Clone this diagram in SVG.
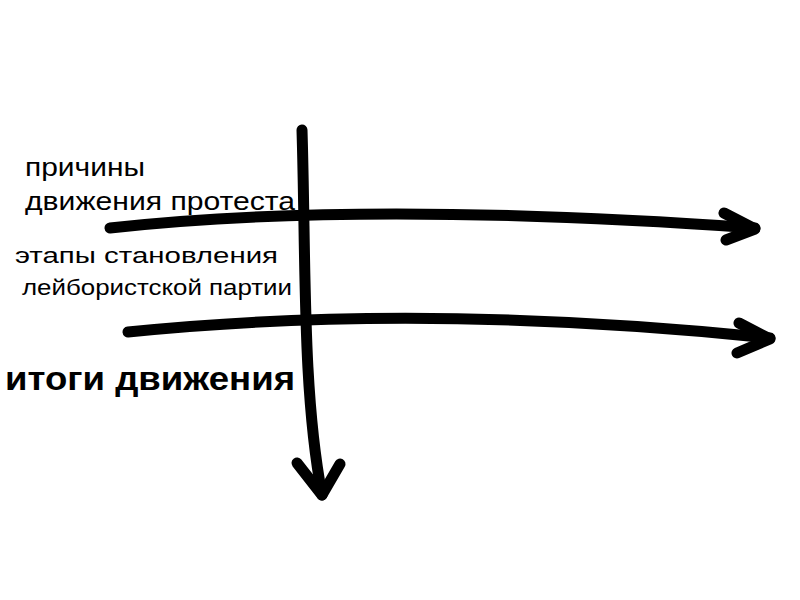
<svg xmlns="http://www.w3.org/2000/svg" width="800" height="600" viewBox="0 0 800 600">
<style>
.s{fill:none;stroke:#000;stroke-width:11;stroke-linecap:round;stroke-linejoin:round}
.t{font-family:"Liberation Sans",Arial,sans-serif;fill:#000}
</style>
<rect width="800" height="600" fill="#fff"/>
<g id="connectors">
<path class="s" d="M110,228 Q360,200 755,228"/>
<path class="s" d="M724,213 L755,229 L726,240"/>
<path class="s" d="M128,332 Q420,302 770,338"/>
<path class="s" d="M739,323 L770,339 L737,353"/>
<path class="s" d="M302,130 C306,260 302,390 322,495"/>
<path class="s" d="M297,463 L322,495 L340,464"/>
</g>
<g id="labels">
<text class="t" x="25" y="176" font-size="26" textLength="120" lengthAdjust="spacingAndGlyphs">причины</text>
<text class="t" x="25" y="210" font-size="26" textLength="270" lengthAdjust="spacingAndGlyphs">движения протеста</text>
<text class="t" x="15" y="263" font-size="22" textLength="263" lengthAdjust="spacingAndGlyphs">этапы становления</text>
<text class="t" x="22" y="295" font-size="22" textLength="270" lengthAdjust="spacingAndGlyphs">лейбористской партии</text>
<text class="t" x="5" y="390" font-size="34" font-weight="bold" textLength="290" lengthAdjust="spacingAndGlyphs">итоги движения</text>
</g>
</svg>
